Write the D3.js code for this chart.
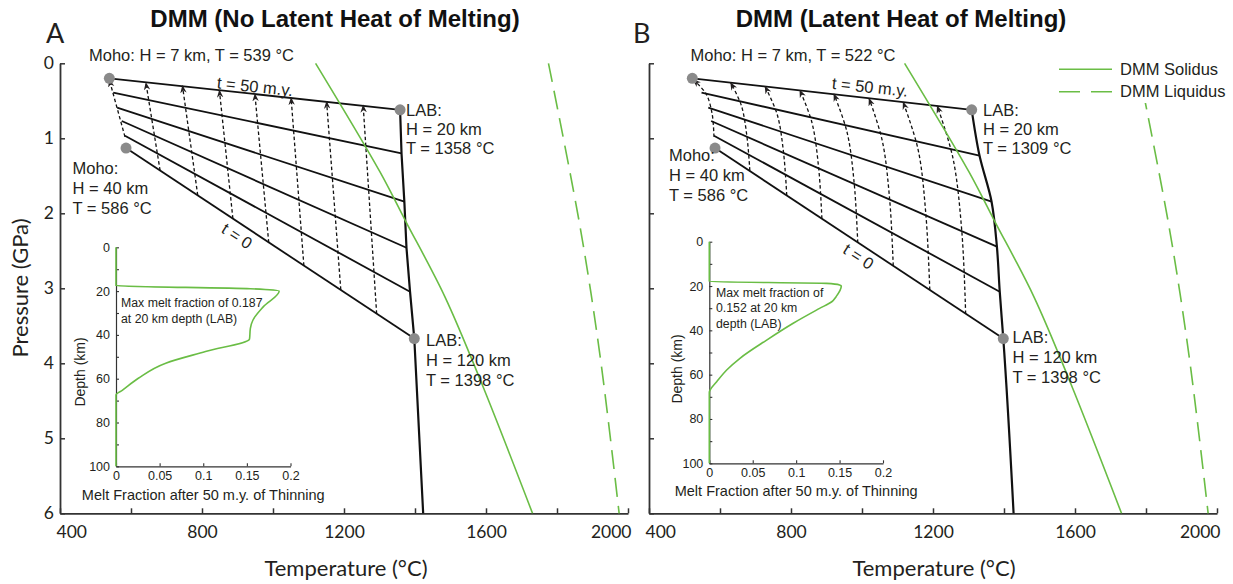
<!DOCTYPE html>
<html>
<head>
<meta charset="utf-8">
<script src="https://cdn.jsdelivr.net/npm/d3@7"></script>
<style>
body{margin:0;background:#fff}
svg{display:block}
</style>
</head>
<body>
<script>
// ---------- values ----------
const tempTicks = [400, 800, 1200, 1600, 2000];
const tempMinor = [400, 600, 800, 1000, 1200, 1400, 1600, 1800, 2000];
const presTicks = [0, 1, 2, 3, 4, 5, 6];
const depthTicks = [0, 20, 40, 60, 80, 100];
const depthMinor = [0, 10, 20, 30, 40, 50, 60, 70, 80, 90, 100];
const meltTicks = [0, 0.05, 0.1, 0.15, 0.2];

// [T degC, P GPa]
const solidus = [[1120, 0], [1301, 1.445], [1372, 2.09], [1484, 3.11], [1588, 4.27], [1731, 6]];
const liquidus = [[1776, 0], [1865, 2.18], [1921, 3.89], [1975, 6]];

// geotherms t = 50 ... 0 m.y. : left end (Moho side) and right end on the LAB adiabat
const leftA = [[539, 0.2], [550, 0.39], [561, 0.59], [574, 0.77], [583, 0.965], [586, 1.13]];
const labA = [[1358, 0.62], [1362, 1.2], [1370, 1.845], [1376, 2.46], [1386, 3.045], [1398, 3.67], [1423, 6]];
const leftB = [[522, 0.2], [548, 0.39], [567, 0.59], [575, 0.77], [583, 0.965], [586, 1.13]];
const labB = [[1309, 0.62], [1331, 1.23], [1365, 1.845], [1380, 2.445], [1388, 3.045], [1398, 3.67], [1427, 6]];

// particle paths (bottom -> top)
const pathsA = [
  [[583, 0.98], [539, 0.22]],
  [[682, 1.43], [642, 0.26]],
  [[788, 1.76], [745, 0.30]],
  [[887, 2.07], [849, 0.36]],
  [[988, 2.39], [949, 0.41]],
  [[1087, 2.70], [1051, 0.46]],
  [[1191, 3.02], [1151, 0.51]],
  [[1292, 3.34], [1254, 0.56]]
];
const pathsB = [
  [[583, 0.98], [578, 0.68], [561, 0.41], [525, 0.22]],
  [[684, 1.43], [676, 0.98], [660, 0.56], [630, 0.26]],
  [[788, 1.76], [779, 1.19], [761, 0.68], [727, 0.31]],
  [[887, 2.07], [878, 1.40], [859, 0.79], [825, 0.36]],
  [[988, 2.39], [978, 1.60], [958, 0.92], [921, 0.41]],
  [[1088, 2.70], [1078, 1.82], [1057, 1.03], [1020, 0.47]],
  [[1191, 3.02], [1180, 2.02], [1158, 1.15], [1116, 0.52]],
  [[1292, 3.34], [1281, 2.23], [1256, 1.26], [1212, 0.57]]
];

// melt fraction vs depth (km) after 50 m.y.
const meltA = [[0, 0], [0, 17.5], [0.154, 18.9], [0.187, 20], [0.169, 27.1], [0.157, 33.2], [0.154, 37], [0.153, 41.9],
  [0.1026, 47.6], [0.057, 52.9], [0.0256, 59.8], [0.0075, 65.2], [0, 67.4], [0, 100]];
const meltB = [[0, 0], [0, 18], [0.135, 18.8], [0.15, 19.5], [0.152, 20], [0.146, 24.8], [0.141, 27.1], [0.127, 30.1],
  [0.0966, 36.8], [0.066, 44.4], [0.0353, 52.6], [0.02, 57.9], [0.0085, 63.2], [0.001, 66.9], [0, 68], [0, 100]];

const titles = ["DMM (No Latent Heat of Melting)", "DMM (Latent Heat of Melting)"];
const letters = ["A", "B"];
const mohoTop = ["Moho: H = 7 km, T = 539 °C", "Moho: H = 7 km, T = 522 °C"];
const labTop = [["LAB:", "H = 20 km", "T = 1358 °C"], ["LAB:", "H = 20 km", "T = 1309 °C"]];
const mohoBot = [["Moho:", "H = 40 km", "T = 586 °C"], ["Moho:", "H = 40 km", "T = 586 °C"]];
const labBot = [["LAB:", "H = 120 km", "T = 1398 °C"], ["LAB:", "H = 120 km", "T = 1398 °C"]];
const meltNote = [["Max melt fraction of 0.187", "at 20 km depth (LAB)"], ["Max melt fraction of", "0.152 at 20 km", "depth (LAB)"]];
const legendNames = ["DMM Solidus", "DMM Liquidus"];

// ---------- drawing ----------
const W = 1233, H = 584;
const ink = "#231f20", green = "#6abd45", grey = "#8a8a8a", axc = "#333";
const sans = "'Liberation Sans', Arial, sans-serif";
const ui = "Lato, 'Open Sans', sans-serif";

const svg = d3.select("body").append("svg").attr("width", W).attr("height", H);

svg.append("defs").append("marker")
  .attr("id", "arr").attr("viewBox", "0 -5 10 10")
  .attr("refX", 9).attr("refY", 0)
  .attr("markerWidth", 8).attr("markerHeight", 8)
  .attr("markerUnits", "userSpaceOnUse").attr("orient", "auto")
  .append("path").attr("d", "M0,-4L10,0L0,4L3,0Z").attr("fill", ink);

const panels = [
  {x0: 60, x1: 628, titleX: 335, letterX: 46, tempX: 346, showY: true,
   left: leftA, lab: labA, paths: pathsA, melt: meltA, pathCurve: d3.curveLinear, labCurve: d3.curveLinear,
   ins: {x0: 116, x1: 290.5, y0: 247.3, y1: 466.3, labX: 80, labY: 372, capY: 500, noteX: 121, noteY: 303},
   txt: {moho7: [89, 55], t50: [255, 86.5], lab20: [406, 110], moho40: [72.5, 168.3], lab120: [426, 340], t0: [237, 236]}},
  {x0: 649, x1: 1217, titleX: 901, letterX: 633, tempX: 934, showY: false,
   left: leftB, lab: labB, paths: pathsB, melt: meltB, pathCurve: d3.curveCatmullRom, labCurve: d3.curveMonotoneY,
   ins: {x0: 709.3, x1: 883, y0: 241.7, y1: 463.3, labX: 677.5, labY: 369, capY: 496, noteX: 716, noteY: 292.3},
   txt: {moho7: [690.5, 55], t50: [870, 87], lab20: [983, 110], moho40: [669, 155], lab120: [1012.5, 337.7], t0: [858.5, 256.5]}}
];

function styleAxis(g, size, family) {
  g.attr("font-family", family).attr("font-size", size);
  g.select(".domain").attr("stroke", axc).attr("stroke-width", 1.8);
  g.selectAll(".tick line").attr("stroke", axc).attr("stroke-width", 1.5);
  g.selectAll(".tick text").attr("fill", ink);
}

function multiline(g, lines, x, y, size, gap) {
  const t = g.append("text").attr("font-family", sans).attr("font-size", size).attr("fill", ink);
  lines.forEach((s, i) => t.append("tspan").attr("x", x).attr("y", y + i * gap).attr("dy", "0.35em").text(s));
  return t;
}

panels.forEach((p, k) => {
  const x = d3.scaleLinear().domain([400, 2000]).range([p.x0, p.x1]);
  const y = d3.scaleLinear().domain([0, 6]).range([63.3, 513.3]);
  const g = svg.append("g");

  // title and panel letter
  g.append("text").attr("x", p.titleX).attr("y", 27).attr("text-anchor", "middle")
    .attr("font-family", sans).attr("font-weight", "bold").attr("font-size", 24).attr("fill", "#111")
    .text(titles[k]);
  g.append("text").attr("x", p.letterX).attr("y", 43).attr("font-family", ui).attr("font-size", 27)
    .attr("fill", ink).text(letters[k]);

  // main axes
  const gx = g.append("g").attr("transform", `translate(0,${y(6)})`)
    .call(d3.axisBottom(x).tickValues(tempMinor).tickSizeInner(-5).tickSizeOuter(0).tickPadding(12)
      .tickFormat(d => tempTicks.includes(d) ? d : ""));
  styleAxis(gx, 17.5, ui);
  gx.selectAll(".tick text").filter(d => d === 400).attr("text-anchor", "start").attr("dx", -4);
  gx.selectAll(".tick text").filter(d => d === 2000).attr("text-anchor", "end").attr("dx", 3);

  const gy = g.append("g").attr("transform", `translate(${x(400)},0)`)
    .call(d3.axisLeft(y).tickValues(presTicks).tickSizeInner(-5).tickSizeOuter(0).tickPadding(6)
      .tickFormat(d => p.showY ? d : ""));
  styleAxis(gy, 17.5, ui);

  g.append("text").attr("x", p.tempX).attr("y", 576).attr("text-anchor", "middle")
    .attr("font-family", ui).attr("font-size", 22).attr("fill", ink).text("Temperature (°C)");
  if (p.showY) {
    g.append("text").attr("transform", "translate(20,288) rotate(-90)").attr("text-anchor", "middle")
      .attr("dy", "0.35em").attr("font-family", ui).attr("font-size", 22).attr("fill", ink).text("Pressure (GPa)");
  }

  const line = d3.line().x(d => x(d[0])).y(d => y(d[1]));

  // geotherms
  g.selectAll(".geo").data(p.left).join("path")
    .attr("d", (d, i) => line([d, p.lab[i]]))
    .attr("fill", "none").attr("stroke", "#111").attr("stroke-width", 1.8);
  // LAB adiabat
  g.append("path").attr("d", line.curve(p.labCurve)(p.lab))
    .attr("fill", "none").attr("stroke", "#111").attr("stroke-width", 2.2);
  line.curve(d3.curveLinear);

  // particle paths
  g.selectAll(".pp").data(p.paths).join("path")
    .attr("d", d => d3.line().x(v => x(v[0])).y(v => y(v[1])).curve(p.pathCurve)(d))
    .attr("fill", "none").attr("stroke", "#111").attr("stroke-width", 1.3)
    .attr("stroke-dasharray", "3.5,2.5").attr("marker-end", "url(#arr)");

  // solidus / liquidus
  const smooth = d3.line().x(d => x(d[0])).y(d => y(d[1])).curve(d3.curveCatmullRom);
  g.append("path").attr("d", smooth(solidus)).attr("fill", "none").attr("stroke", green).attr("stroke-width", 1.6);
  g.append("path").attr("d", smooth(liquidus)).attr("fill", "none").attr("stroke", green).attr("stroke-width", 1.6)
    .attr("stroke-dasharray", "19,9");

  // end-point dots
  const dots = [p.left[0], p.lab[0], p.left[p.left.length - 1], p.lab[p.left.length - 1]];
  g.selectAll(".dot").data(dots).join("circle")
    .attr("cx", d => x(d[0])).attr("cy", d => y(d[1])).attr("r", 5.5).attr("fill", grey);

  // annotations
  const t = p.txt;
  multiline(g, [mohoTop[k]], t.moho7[0], t.moho7[1], 16.5, 19.3);
  multiline(g, labTop[k], t.lab20[0], t.lab20[1], 16.5, 19.3);
  multiline(g, mohoBot[k], t.moho40[0], t.moho40[1], 16.5, 20);
  multiline(g, labBot[k], t.lab120[0], t.lab120[1], 16.5, 20);
  g.append("text").attr("transform", `translate(${t.t50[0]},${t.t50[1]}) rotate(6)`).attr("text-anchor", "middle")
    .attr("dy", "0.35em").attr("font-family", sans).attr("font-size", 16.5).attr("fill", ink).text("t = 50 m.y.");
  g.append("text").attr("transform", `translate(${t.t0[0]},${t.t0[1]}) rotate(33.5)`).attr("text-anchor", "middle")
    .attr("dy", "0.35em").attr("font-family", sans).attr("font-size", 16.5).attr("fill", ink).text("t = 0");

  // inset: melt fraction profile
  const q = p.ins;
  const mx = d3.scaleLinear().domain([0, 0.2]).range([q.x0, q.x1]);
  const my = d3.scaleLinear().domain([0, 100]).range([q.y0, q.y1]);
  const ix = g.append("g").attr("transform", `translate(0,${q.y1})`)
    .call(d3.axisBottom(mx).tickValues(meltTicks).tickSizeInner(-3).tickSizeOuter(0).tickPadding(5)
      .tickFormat(d => String(d)));
  styleAxis(ix, 12.5, sans);
  const iy = g.append("g").attr("transform", `translate(${q.x0},0)`)
    .call(d3.axisLeft(my).tickValues(depthMinor).tickSizeInner(-3).tickSizeOuter(0).tickPadding(6)
      .tickFormat(d => depthTicks.includes(d) ? d : ""));
  styleAxis(iy, 12.5, sans);
  [ix, iy].forEach(a => {
    a.select(".domain").attr("stroke-width", 1.2);
    a.selectAll(".tick line").attr("stroke-width", 1.1);
  });

  g.append("path")
    .attr("d", d3.line().x(d => mx(d[0])).y(d => my(d[1])).curve(d3.curveMonotoneY)(p.melt))
    .attr("fill", "none").attr("stroke", green).attr("stroke-width", 1.6);

  g.append("text").attr("transform", `translate(${q.labX},${q.labY}) rotate(-90)`).attr("text-anchor", "middle")
    .attr("dy", "0.35em").attr("font-family", sans).attr("font-size", 14).attr("fill", ink).text("Depth (km)");
  g.append("text").attr("x", (q.x0 + q.x1) / 2 + 0).attr("y", q.capY).attr("text-anchor", "middle")
    .attr("font-family", sans).attr("font-size", 14.5).attr("fill", ink)
    .text("Melt Fraction after 50 m.y. of Thinning");
  multiline(g, meltNote[k], q.noteX, q.noteY, 12.3, 15.5);
});

// legend (panel B)
const lg = svg.append("g");
lg.append("rect").attr("x", 1055).attr("y", 58).attr("width", 175).attr("height", 45).attr("fill", "#fff");
legendNames.forEach((name, i) => {
  const yy = 69.3 + i * 22.4;
  lg.append("line").attr("x1", 1059).attr("x2", 1112).attr("y1", yy).attr("y2", yy)
    .attr("stroke", green).attr("stroke-width", 1.6).attr("stroke-dasharray", i ? "21,11" : null);
  lg.append("text").attr("x", 1120).attr("y", yy).attr("dy", "0.35em")
    .attr("font-family", sans).attr("font-size", 16.5).attr("fill", ink).text(name);
});
</script>
</body>
</html>
